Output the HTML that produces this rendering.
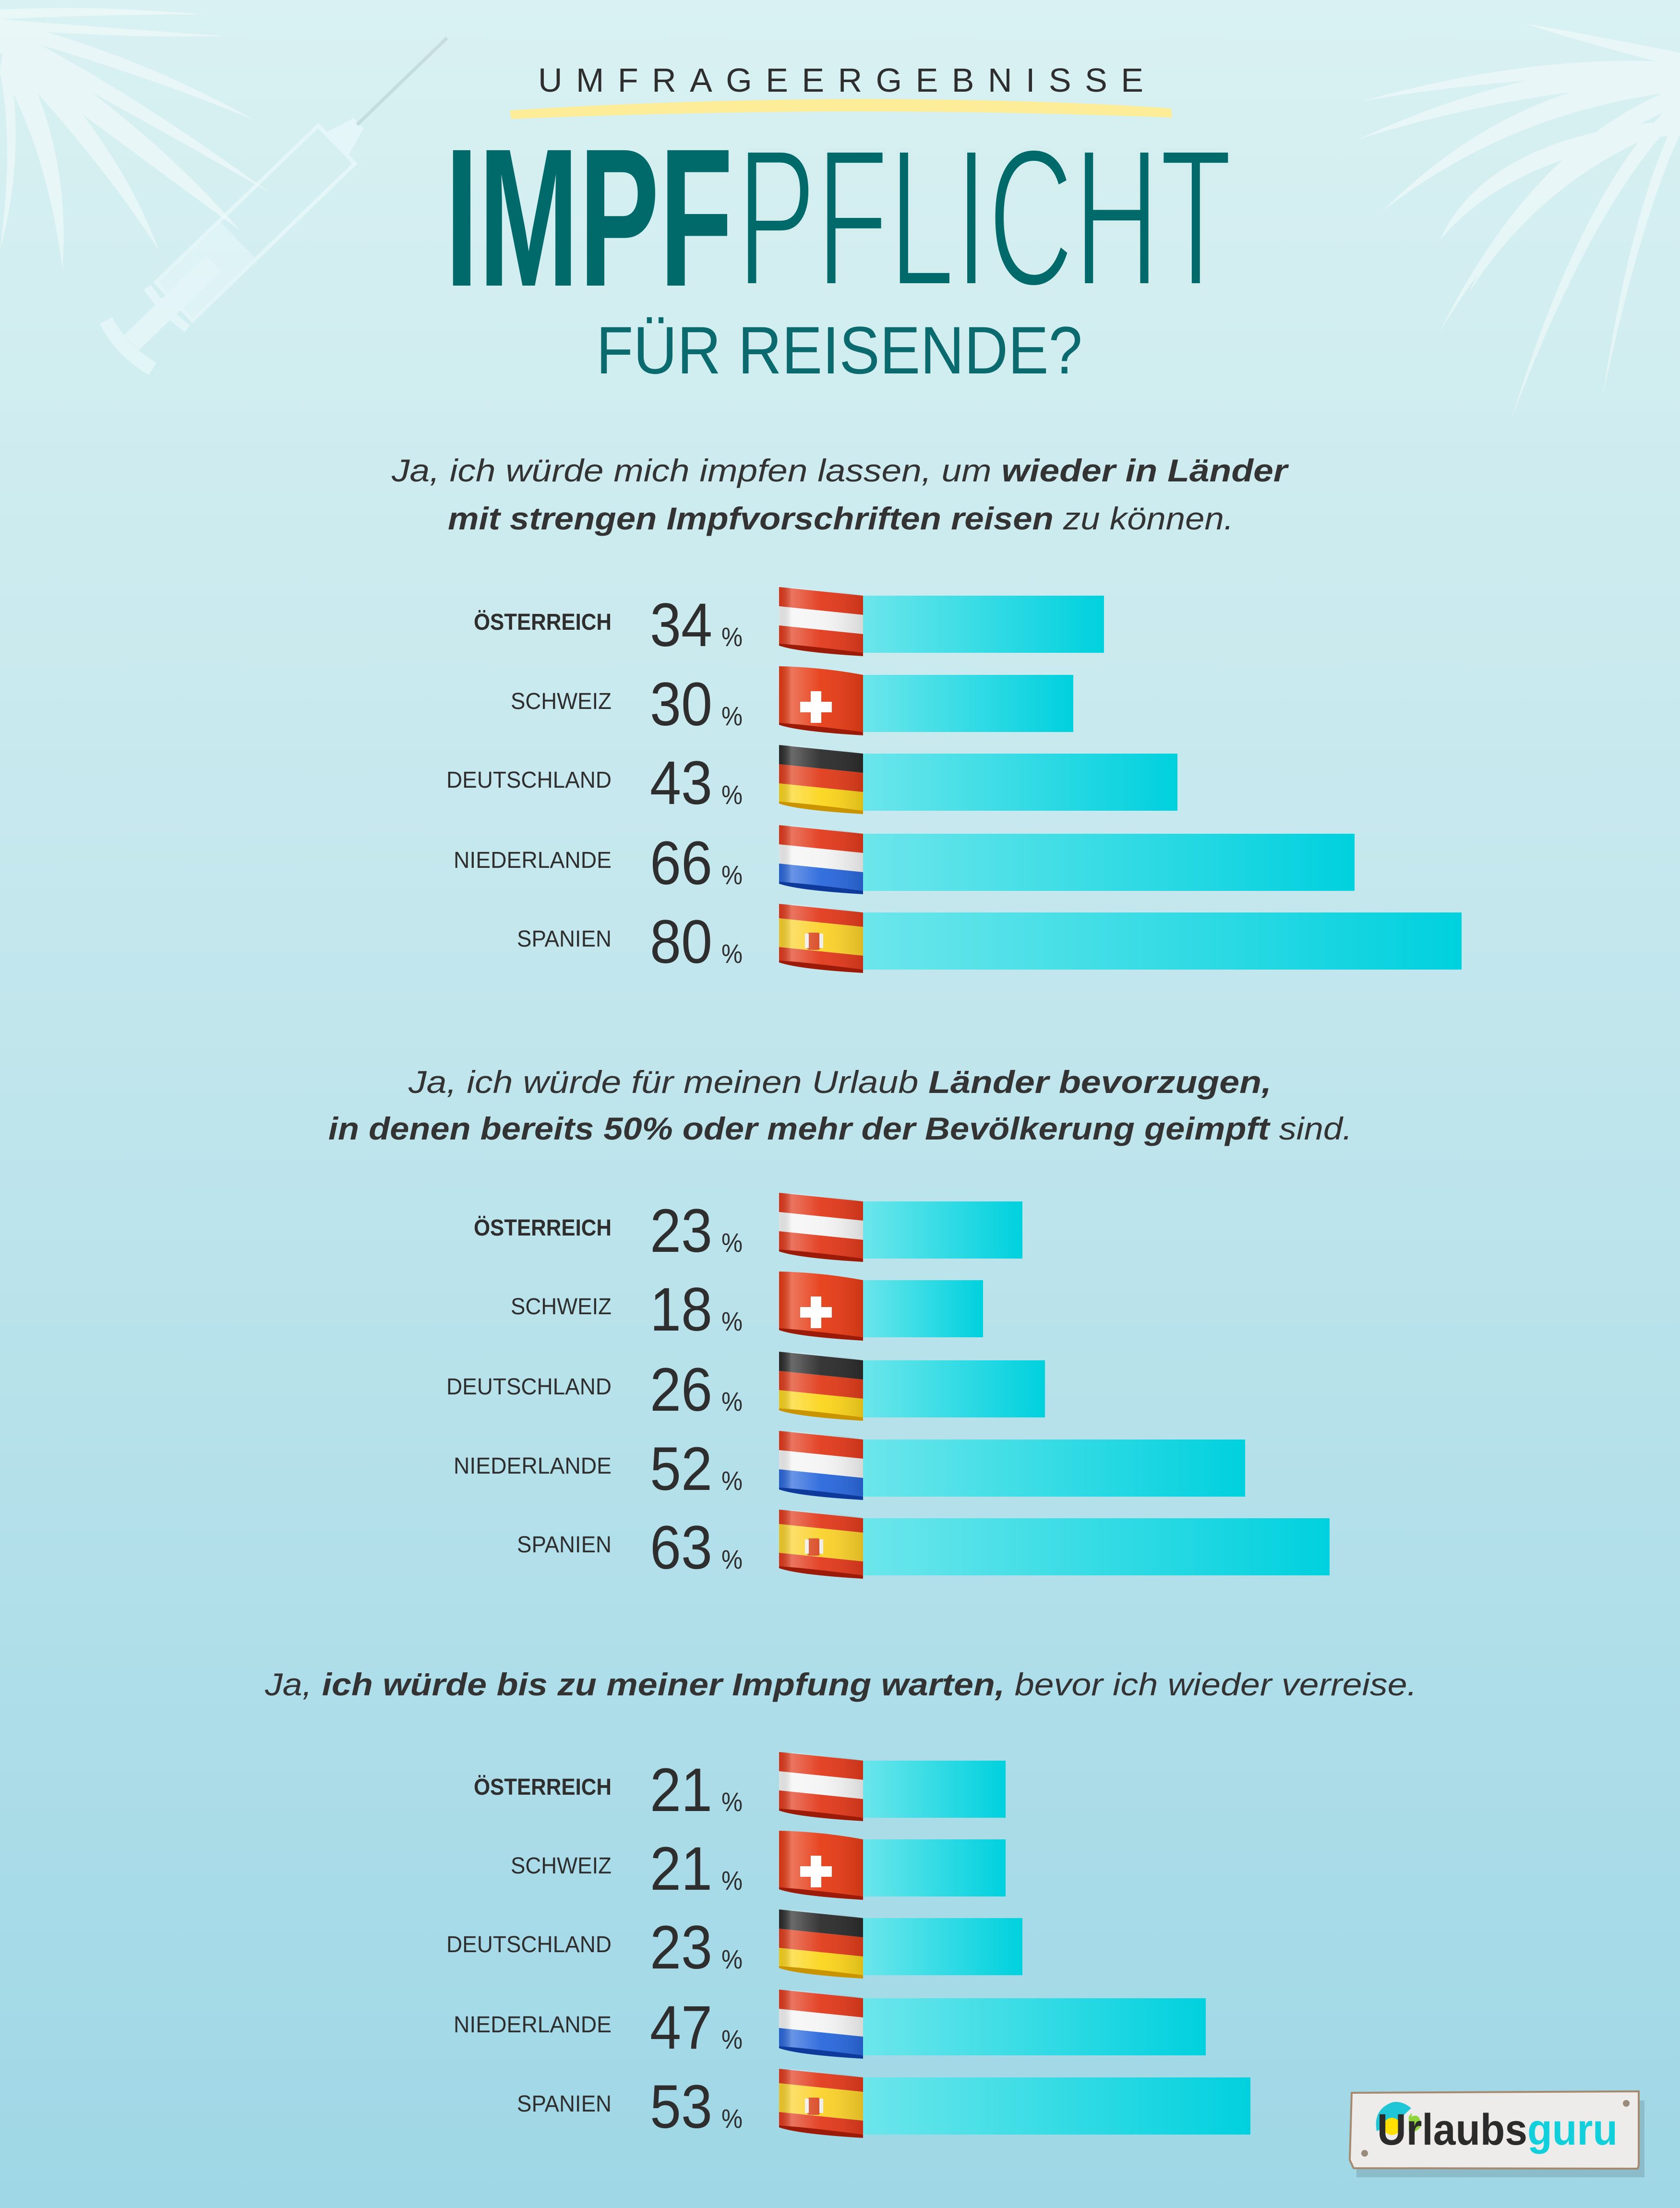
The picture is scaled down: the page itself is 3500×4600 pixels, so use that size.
<!DOCTYPE html>
<html><head><meta charset="utf-8"><style>
html,body{margin:0;padding:0}
svg{display:block}
</style></head><body>
<svg width="3500" height="4600" viewBox="0 0 3500 4600" xmlns="http://www.w3.org/2000/svg">
<defs>
<linearGradient id="bg" x1="0" y1="0" x2="0" y2="1">
<stop offset="0" stop-color="#d9f1f2"/><stop offset="0.5" stop-color="#bfe5ec"/><stop offset="1" stop-color="#9fd7e6"/>
</linearGradient>
<linearGradient id="bar" x1="0" y1="0" x2="1" y2="0">
<stop offset="0" stop-color="#6ce6eb"/><stop offset="1" stop-color="#00d1de"/>
</linearGradient>
<linearGradient id="shade" x1="0" y1="0" x2="1" y2="0">
<stop offset="0" stop-color="#000" stop-opacity="0.08"/>
<stop offset="0.15" stop-color="#fff" stop-opacity="0.3"/>
<stop offset="0.5" stop-color="#fff" stop-opacity="0.05"/>
<stop offset="1" stop-color="#000" stop-opacity="0.12"/>
</linearGradient>
<clipPath id="fc"><path d="M0,-18 Q90,-16 175,0 L175,119 Q90,112 0,100 Z"/></clipPath>
<g id="at"><g clip-path="url(#fc)"><g transform="matrix(1,0.103,0,1,0,-18)"><rect x="0" y="0" width="175" height="40" fill="#e23a1c"/><rect x="0" y="40" width="175" height="40" fill="#f4f4f4"/><rect x="0" y="80" width="175" height="42" fill="#e23a1c"/></g><rect x="0" y="-20" width="175" height="145" fill="url(#shade)"/></g><path d="M0,100 Q60,104 175,119 L175,126 Q40,118 0,104 Z" fill="#9b1a08"/></g>
<g id="ch"><g clip-path="url(#fc)"><rect x="0" y="-20" width="175" height="145" fill="#e63c16"/><rect x="66" y="34" width="22" height="66" fill="#fff"/><rect x="44" y="56" width="66" height="22" fill="#fff"/><rect x="0" y="-20" width="175" height="145" fill="url(#shade)"/></g><path d="M0,100 Q60,104 175,119 L175,126 Q40,118 0,104 Z" fill="#9b1a08"/></g>
<g id="de"><g clip-path="url(#fc)"><g transform="matrix(1,0.103,0,1,0,-18)"><rect x="0" y="0" width="175" height="40" fill="#2c2c2c"/><rect x="0" y="40" width="175" height="40" fill="#e03c1a"/><rect x="0" y="80" width="175" height="42" fill="#fbd51c"/></g><rect x="0" y="-20" width="175" height="145" fill="url(#shade)"/></g><path d="M0,100 Q60,104 175,119 L175,126 Q40,118 0,104 Z" fill="#c99400"/></g>
<g id="nl"><g clip-path="url(#fc)"><g transform="matrix(1,0.103,0,1,0,-18)"><rect x="0" y="0" width="175" height="40" fill="#e23a1c"/><rect x="0" y="40" width="175" height="40" fill="#f4f4f4"/><rect x="0" y="80" width="175" height="42" fill="#2a68dc"/></g><rect x="0" y="-20" width="175" height="145" fill="url(#shade)"/></g><path d="M0,100 Q60,104 175,119 L175,126 Q40,118 0,104 Z" fill="#0e3a9c"/></g>
<g id="es"><g clip-path="url(#fc)"><g transform="matrix(1,0.103,0,1,0,-18)"><rect x="0" y="0" width="175" height="30" fill="#e23a1c"/><rect x="0" y="30" width="175" height="60" fill="#fbd22a"/><rect x="0" y="90" width="175" height="32" fill="#e23a1c"/></g><rect x="58" y="42" width="28" height="36" rx="6" fill="#d8461e"/><rect x="54" y="44" width="8" height="30" fill="#eee"/><rect x="84" y="44" width="8" height="30" fill="#eee"/><rect x="0" y="-20" width="175" height="145" fill="url(#shade)"/></g><path d="M0,100 Q60,104 175,119 L175,126 Q40,118 0,104 Z" fill="#9b1a08"/></g>
</defs>
<rect width="3500" height="4600" fill="url(#bg)"/>

<!-- palms -->
<g fill="#ffffff" opacity="0.45">
<path d="M0,40 Q250,60 470,75 Q250,80 0,60Z"/>
<path d="M0,40 Q280,110 530,250 Q260,140 0,70Z"/>
<path d="M0,50 Q260,180 560,400 Q230,210 0,90Z"/>
<path d="M0,60 Q300,250 500,480 Q200,260 0,110Z"/>
<path d="M20,60 Q250,300 330,520 Q200,320 10,120Z"/>
<path d="M20,70 Q150,300 130,560 Q100,320 0,140Z"/>
<path d="M10,80 Q60,300 0,520 Q30,300 0,150Z"/>
<path d="M0,20 Q200,10 420,30 Q200,30 0,40Z"/>
<path d="M3500,130 Q3200,110 2840,210 Q3200,150 3500,160Z"/>
<path d="M3500,140 Q3200,120 2830,290 Q3150,190 3500,170Z"/>
<path d="M3500,150 Q3150,170 2880,440 Q3150,230 3500,190Z"/>
<path d="M3500,180 Q3200,290 3000,690 Q3220,330 3500,220Z"/>
<path d="M3500,200 Q3300,380 3150,870 Q3320,420 3500,240Z"/>
<path d="M3500,230 Q3400,420 3340,820 Q3420,450 3500,280Z"/>
<path d="M3500,240 Q3180,340 3060,610 Q3220,360 3500,260Z"/>
<path d="M3500,110 Q3250,60 3180,50 Q3300,90 3500,140Z"/>
<path d="M3500,250 Q3100,280 3000,500 Q3150,320 3500,280Z"/>
</g>
<!-- syringe -->
<g transform="translate(255,732) rotate(-44)" opacity="0.6" fill="none" stroke="#eefafb" stroke-width="8">
<path d="M20,-70 Q0,0 20,70" stroke-width="30"/>
<rect x="30" y="-18" width="230" height="36" fill="#eefafb"/>
<path d="M130,-60 Q120,0 130,60" stroke-width="18"/>
<rect x="150" y="-55" width="470" height="110"/>
<rect x="150" y="-55" width="180" height="110" fill="#eefafb" opacity="0.7"/>
<path d="M620,-30 L680,-12 L680,12 L620,30" fill="#eefafb"/>
<line x1="680" y1="0" x2="940" y2="0" stroke="#b9cfd0" stroke-width="7"/>
</g>

<!-- titles -->
<path d="M1062,230 Q1400,208 1800,206 Q2200,208 2440,226 L2442,245 Q2100,232 1760,232 Q1400,234 1065,248 Z" fill="#fdec98"/>
<text x="1121" y="191" font-family="Liberation Sans, sans-serif" font-size="70" fill="#2e2e2e" textLength="1261" lengthAdjust="spacing">UMFRAGEERGEBNISSE</text>
<text x="927" y="595" font-family="Liberation Sans, sans-serif" font-weight="bold" font-size="410" fill="#006a6b" textLength="600" lengthAdjust="spacingAndGlyphs">IMPF</text>
<text x="1535" y="595" font-family="Liberation Sans, sans-serif" font-size="410" fill="#006a6b" stroke="#d4eef0" stroke-width="10" paint-order="stroke" textLength="1032" lengthAdjust="spacingAndGlyphs" style="paint-order:normal">PFLICHT</text>
<text x="1242" y="778" font-family="Liberation Sans, sans-serif" font-size="140" fill="#0a6a6e" textLength="1013" lengthAdjust="spacingAndGlyphs">FÜR REISENDE?</text>

<!-- headings -->
<g font-family="Liberation Sans, sans-serif" font-style="italic" font-size="66" fill="#333">
<text x="816" y="1003" textLength="1866" lengthAdjust="spacingAndGlyphs">Ja, ich würde mich impfen lassen, um <tspan font-weight="bold">wieder in Länder</tspan></text>
<text x="933" y="1103" textLength="1637" lengthAdjust="spacingAndGlyphs"><tspan font-weight="bold">mit strengen Impfvorschriften reisen</tspan> zu können.</text>
<text x="851" y="2277" textLength="1798" lengthAdjust="spacingAndGlyphs">Ja, ich würde für meinen Urlaub <tspan font-weight="bold">Länder bevorzugen,</tspan></text>
<text x="684" y="2374" textLength="2133" lengthAdjust="spacingAndGlyphs"><tspan font-weight="bold">in denen bereits 50% oder mehr der Bevölkerung geimpft</tspan> sind.</text>
<text x="552" y="3532" textLength="2400" lengthAdjust="spacingAndGlyphs">Ja, <tspan font-weight="bold">ich würde bis zu meiner Impfung warten,</tspan> bevor ich wieder verreise.</text>
</g>

<!-- bars -->
<g fill="url(#bar)">
<rect x="1795" y="1241" width="505" height="119"/>
<rect x="1795" y="1406" width="441" height="119"/>
<rect x="1795" y="1570" width="658" height="119"/>
<rect x="1795" y="1737" width="1027" height="119"/>
<rect x="1795" y="1901" width="1250" height="119"/>
<rect x="1795" y="2503" width="335" height="119"/>
<rect x="1795" y="2667" width="253" height="119"/>
<rect x="1795" y="2834" width="382" height="119"/>
<rect x="1795" y="2999" width="799" height="119"/>
<rect x="1795" y="3163" width="975" height="119"/>
<rect x="1795" y="3668" width="300" height="119"/>
<rect x="1795" y="3832" width="300" height="119"/>
<rect x="1795" y="3996" width="335" height="119"/>
<rect x="1795" y="4163" width="717" height="119"/>
<rect x="1795" y="4328" width="810" height="119"/>
</g>
<use href="#at" x="1623" y="1241"/><use href="#ch" x="1623" y="1406"/><use href="#de" x="1623" y="1570"/><use href="#nl" x="1623" y="1737"/><use href="#es" x="1623" y="1901"/>
<use href="#at" x="1623" y="2503"/><use href="#ch" x="1623" y="2667"/><use href="#de" x="1623" y="2834"/><use href="#nl" x="1623" y="2999"/><use href="#es" x="1623" y="3163"/>
<use href="#at" x="1623" y="3668"/><use href="#ch" x="1623" y="3832"/><use href="#de" x="1623" y="3996"/><use href="#nl" x="1623" y="4163"/><use href="#es" x="1623" y="4328"/>

<!-- labels -->
<g font-family="Liberation Sans, sans-serif" font-size="48" fill="#2e2e2e" text-anchor="end">
<text x="1274" y="1312" font-weight="bold" textLength="287" lengthAdjust="spacingAndGlyphs">ÖSTERREICH</text>
<text x="1274" y="1477" textLength="210" lengthAdjust="spacingAndGlyphs">SCHWEIZ</text>
<text x="1274" y="1641" textLength="344" lengthAdjust="spacingAndGlyphs">DEUTSCHLAND</text>
<text x="1274" y="1808" textLength="329" lengthAdjust="spacingAndGlyphs">NIEDERLANDE</text>
<text x="1274" y="1972" textLength="197" lengthAdjust="spacingAndGlyphs">SPANIEN</text>
<text x="1274" y="2574" font-weight="bold" textLength="287" lengthAdjust="spacingAndGlyphs">ÖSTERREICH</text>
<text x="1274" y="2738" textLength="210" lengthAdjust="spacingAndGlyphs">SCHWEIZ</text>
<text x="1274" y="2905" textLength="344" lengthAdjust="spacingAndGlyphs">DEUTSCHLAND</text>
<text x="1274" y="3070" textLength="329" lengthAdjust="spacingAndGlyphs">NIEDERLANDE</text>
<text x="1274" y="3234" textLength="197" lengthAdjust="spacingAndGlyphs">SPANIEN</text>
<text x="1274" y="3739" font-weight="bold" textLength="287" lengthAdjust="spacingAndGlyphs">ÖSTERREICH</text>
<text x="1274" y="3903" textLength="210" lengthAdjust="spacingAndGlyphs">SCHWEIZ</text>
<text x="1274" y="4067" textLength="344" lengthAdjust="spacingAndGlyphs">DEUTSCHLAND</text>
<text x="1274" y="4234" textLength="329" lengthAdjust="spacingAndGlyphs">NIEDERLANDE</text>
<text x="1274" y="4399" textLength="197" lengthAdjust="spacingAndGlyphs">SPANIEN</text>
</g>
<!-- numbers -->
<g font-family="Liberation Sans, sans-serif" font-size="128" fill="#2e2e2e">
<text x="1354" y="1346" textLength="130" lengthAdjust="spacingAndGlyphs">34</text>
<text x="1354" y="1511" textLength="130" lengthAdjust="spacingAndGlyphs">30</text>
<text x="1354" y="1675" textLength="130" lengthAdjust="spacingAndGlyphs">43</text>
<text x="1354" y="1842" textLength="130" lengthAdjust="spacingAndGlyphs">66</text>
<text x="1354" y="2006" textLength="130" lengthAdjust="spacingAndGlyphs">80</text>
<text x="1354" y="2608" textLength="130" lengthAdjust="spacingAndGlyphs">23</text>
<text x="1354" y="2772" textLength="130" lengthAdjust="spacingAndGlyphs">18</text>
<text x="1354" y="2939" textLength="130" lengthAdjust="spacingAndGlyphs">26</text>
<text x="1354" y="3104" textLength="130" lengthAdjust="spacingAndGlyphs">52</text>
<text x="1354" y="3268" textLength="130" lengthAdjust="spacingAndGlyphs">63</text>
<text x="1354" y="3773" textLength="130" lengthAdjust="spacingAndGlyphs">21</text>
<text x="1354" y="3937" textLength="130" lengthAdjust="spacingAndGlyphs">21</text>
<text x="1354" y="4101" textLength="130" lengthAdjust="spacingAndGlyphs">23</text>
<text x="1354" y="4268" textLength="130" lengthAdjust="spacingAndGlyphs">47</text>
<text x="1354" y="4433" textLength="130" lengthAdjust="spacingAndGlyphs">53</text>
</g>
<g font-family="Liberation Sans, sans-serif" font-size="56" fill="#2e2e2e">
<text x="1503" y="1346" textLength="44" lengthAdjust="spacingAndGlyphs">%</text>
<text x="1503" y="1511" textLength="44" lengthAdjust="spacingAndGlyphs">%</text>
<text x="1503" y="1675" textLength="44" lengthAdjust="spacingAndGlyphs">%</text>
<text x="1503" y="1842" textLength="44" lengthAdjust="spacingAndGlyphs">%</text>
<text x="1503" y="2006" textLength="44" lengthAdjust="spacingAndGlyphs">%</text>
<text x="1503" y="2608" textLength="44" lengthAdjust="spacingAndGlyphs">%</text>
<text x="1503" y="2772" textLength="44" lengthAdjust="spacingAndGlyphs">%</text>
<text x="1503" y="2939" textLength="44" lengthAdjust="spacingAndGlyphs">%</text>
<text x="1503" y="3104" textLength="44" lengthAdjust="spacingAndGlyphs">%</text>
<text x="1503" y="3268" textLength="44" lengthAdjust="spacingAndGlyphs">%</text>
<text x="1503" y="3773" textLength="44" lengthAdjust="spacingAndGlyphs">%</text>
<text x="1503" y="3937" textLength="44" lengthAdjust="spacingAndGlyphs">%</text>
<text x="1503" y="4101" textLength="44" lengthAdjust="spacingAndGlyphs">%</text>
<text x="1503" y="4268" textLength="44" lengthAdjust="spacingAndGlyphs">%</text>
<text x="1503" y="4433" textLength="44" lengthAdjust="spacingAndGlyphs">%</text>
</g>

<!-- logo -->
<rect x="2822" y="4370" width="600" height="160" fill="#000" opacity="0.12" transform="translate(4,6)"/>
<path d="M2816,4360 L3414,4357 L3414,4510 L3412,4518 L2820,4517 L2812,4500 Z" fill="#eeeceb" stroke="#a58a70" stroke-width="4"/>
<circle cx="3388" cy="4382" r="7" fill="#9a8a7a"/><circle cx="2843" cy="4486" r="7" fill="#9a8a7a"/>
<path d="M2868,4440 Q2860,4395 2900,4380 Q2920,4375 2940,4392 L2910,4420 Z" fill="#1ec6d6"/>
<path d="M2935,4410 Q2945,4395 2940,4410 Q2960,4400 2960,4430 Q2950,4445 2935,4440Z" fill="#8fd43a"/>
<circle cx="2900" cy="4430" r="18" fill="#ffe000"/>
<text x="2869" y="4468" font-family="Liberation Sans, sans-serif" font-weight="bold" font-size="92" fill="#2b2b2b" textLength="313" lengthAdjust="spacingAndGlyphs">Urlaubs</text>
<text x="3182" y="4468" font-family="Liberation Sans, sans-serif" font-weight="bold" font-size="92" fill="#12cfdc" textLength="188" lengthAdjust="spacingAndGlyphs">guru</text>
</svg>
</body></html>
